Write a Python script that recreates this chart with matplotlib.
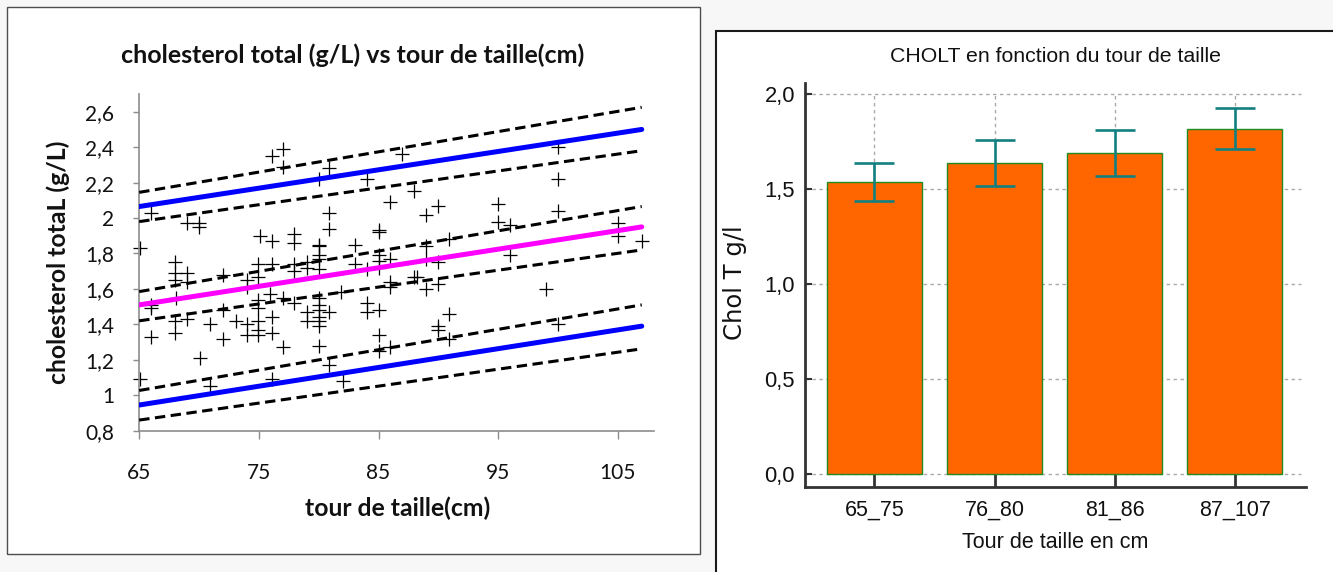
import matplotlib
matplotlib.use("Agg")
import matplotlib.pyplot as plt
from matplotlib.patches import Rectangle
from matplotlib.ticker import FixedLocator, FixedFormatter

# ---------------- data ----------------
# scatter: waist circumference (cm) vs total cholesterol (g/L)
waist = [76.1, 77.0, 77.0, 80.9, 80.0, 84.0, 66.0, 69.0, 70.0, 70.0,
         65.1, 80.9, 80.9, 75.1, 76.1, 77.9, 77.9, 80.0, 83.0, 85.0,
         85.0, 85.0, 80.0, 80.0, 68.0, 68.0, 68.0, 69.0, 69.0, 72.0,
         74.0, 74.0, 74.9, 76.1, 74.9, 77.9, 77.9, 79.0, 79.0, 80.0,
         80.0, 83.0, 84.0, 85.0, 85.0, 68.1, 66.0, 74.9, 75.9, 77.0,
         80.0, 80.0, 81.9, 84.0, 66.0, 68.0, 68.0, 69.0, 70.9, 72.0,
         72.0, 73.1, 74.0, 74.0, 74.9, 74.9, 74.9, 74.9, 76.1, 76.1,
         77.9, 79.0, 79.0, 80.0, 80.0, 80.0, 80.0, 80.9, 84.0, 85.0,
         66.0, 70.1, 77.0, 80.0, 80.9, 65.1, 70.9, 76.1, 82.0, 85.0,
         85.0, 87.0, 100.0, 100.0, 100.0, 88.0, 86.0, 89.0, 90.0, 95.0,
         95.0, 96.0, 90.9, 89.0, 89.0, 90.0, 86.0, 96.0, 105.0, 105.0,
         107.0, 86.0, 86.0, 88.0, 88.2, 89.0, 90.0, 99.0, 90.9, 90.0,
         90.0, 90.9, 86.0, 100.0]
chol = [2.35, 2.39, 2.29, 2.28, 2.22, 2.22, 2.03, 1.97, 1.97, 1.95,
        1.83, 2.03, 1.94, 1.90, 1.87, 1.91, 1.86, 1.85, 1.85, 1.93,
        1.92, 1.79, 1.84, 1.79, 1.75, 1.69, 1.65, 1.69, 1.64, 1.68,
        1.65, 1.61, 1.74, 1.74, 1.67, 1.74, 1.70, 1.75, 1.72, 1.77,
        1.71, 1.74, 1.71, 1.76, 1.72, 1.55, 1.51, 1.54, 1.57, 1.55,
        1.55, 1.51, 1.58, 1.52, 1.49, 1.42, 1.35, 1.43, 1.40, 1.48,
        1.32, 1.42, 1.40, 1.34, 1.49, 1.42, 1.37, 1.34, 1.44, 1.35,
        1.52, 1.47, 1.42, 1.48, 1.44, 1.42, 1.39, 1.47, 1.47, 1.48,
        1.33, 1.21, 1.27, 1.28, 1.17, 1.09, 1.05, 1.09, 1.08, 1.34,
        1.25, 2.36, 2.40, 2.22, 2.04, 2.15, 2.09, 2.02, 2.07, 2.08,
        1.98, 1.96, 1.88, 1.84, 1.77, 1.75, 1.77, 1.79, 1.97, 1.90,
        1.87, 1.64, 1.61, 1.67, 1.67, 1.60, 1.63, 1.60, 1.46, 1.39,
        1.37, 1.32, 1.27, 1.40]

# regression line and bands, evaluated at the ends of the waist range
fit_x = [65, 107]
fit_mean = [1.51, 1.95]
mean_ci_hi = [1.585, 2.065]
mean_ci_lo = [1.42, 1.82]
pred_hi = [2.065, 2.50]
pred_hi_ci_hi = [2.145, 2.625]
pred_hi_ci_lo = [1.98, 2.38]
pred_lo = [0.945, 1.39]
pred_lo_ci_hi = [1.027, 1.51]
pred_lo_ci_lo = [0.86, 1.262]

left_yticks = [0.8, 1.0, 1.2, 1.4, 1.6, 1.8, 2.0, 2.2, 2.4, 2.6]
left_yticklabels = ["0,8", "1", "1,2", "1,4", "1,6", "1,8", "2", "2,2", "2,4", "2,6"]
left_xticks = [65, 75, 85, 95, 105]

# bar chart: mean total cholesterol per waist class
waist_classes = ["65_75", "76_80", "81_86", "87_107"]
chol_mean = [1.54, 1.64, 1.69, 1.82]
chol_err = [0.10, 0.12, 0.12, 0.11]
right_yticks = [0.0, 0.5, 1.0, 1.5, 2.0]
right_yticklabels = ["0,0", "0,5", "1,0", "1,5", "2,0"]

# ---------------- figure ----------------
W, H = 1333, 572
fig = plt.figure(figsize=(W / 100, H / 100), dpi=100, facecolor="#f7f7f7")


def fx(px):
    return px / W


def fy(py):
    return 1 - py / H


# panel backgrounds / frames (behind the axes)
fig.patches.append(Rectangle((fx(7), fy(554)), fx(700 - 7), (554 - 7) / H,
                             transform=fig.transFigure, facecolor="white",
                             edgecolor="#4d4d4d", linewidth=1.0, zorder=-5))
fig.patches.append(Rectangle((fx(716), fy(600)), fx(700), (600 - 31) / H,
                             transform=fig.transFigure, facecolor="white",
                             edgecolor="#1a1a1a", linewidth=1.5, zorder=-5))

# ---------------- left: scatter with regression ----------------
lfont = "Lato"
axL = fig.add_axes([fx(139.2), fy(430.7), fx(653.7 - 139.2), (430.7 - 94) / H])
axL.set_facecolor("none")
axL.set_xlim(65, 108)
axL.set_ylim(0.8, 2.7)

axL.plot(waist, chol, linestyle="none", marker="+", markersize=9.5,
         markeredgewidth=0.9, color="black", zorder=2, clip_on=False)

dash_kw = dict(color="black", linewidth=2.2, dashes=(3.4, 1.8),
               solid_capstyle="butt", zorder=3)
for band in (mean_ci_hi, mean_ci_lo, pred_hi_ci_hi, pred_hi_ci_lo,
             pred_lo_ci_hi, pred_lo_ci_lo):
    axL.plot(fit_x, band, **dash_kw)
axL.plot(fit_x, pred_hi, color="#0000ff", linewidth=3.6,
         solid_capstyle="round", zorder=4)
axL.plot(fit_x, pred_lo, color="#0000ff", linewidth=3.6,
         solid_capstyle="round", zorder=4)
axL.plot(fit_x, fit_mean, color="#ff00ff", linewidth=3.6,
         solid_capstyle="round", zorder=4)

for side in ("top", "right"):
    axL.spines[side].set_visible(False)
for side in ("left", "bottom"):
    axL.spines[side].set_color("#8c8c8c")
    axL.spines[side].set_linewidth(1.2)

axL.yaxis.set_major_locator(FixedLocator(left_yticks))
axL.yaxis.set_major_formatter(FixedFormatter(left_yticklabels))
axL.xaxis.set_major_locator(FixedLocator(left_xticks))
axL.set_xticklabels([str(v) for v in left_xticks])
axL.tick_params(axis="y", direction="out", length=4, width=1.0,
                color="#8c8c8c", pad=14, labelsize=15, labelcolor="#111111")
axL.tick_params(axis="x", direction="out", length=6, width=1.0,
                color="#8c8c8c", pad=17, labelsize=15, labelcolor="#111111")
for lab in axL.get_xticklabels() + axL.get_yticklabels():
    lab.set_family(lfont)

fig.text(fx(353), fy(55), "cholesterol total (g/L) vs tour de taille(cm)",
         ha="center", va="center", fontsize=18, fontweight="bold",
         family=lfont, color="#111111")
fig.text(fx(58), fy(262), "cholesterol totaL (g/L)", rotation=90,
         ha="center", va="center", fontsize=17.8, fontweight="bold",
         family=lfont, color="#111111")
fig.text(fx(398), fy(508), "tour de taille(cm)", ha="center", va="center",
         fontsize=17.8, fontweight="bold", family=lfont, color="#111111")

# ---------------- right: bar chart with error bars ----------------
rfont = ["Liberation Sans", "DejaVu Sans"]
axR = fig.add_axes([fx(804.8), fy(486.7), fx(1305.6 - 804.8), (486.7 - 82.9) / H])
axR.set_facecolor("none")
axR.set_xlim(-0.58, 3.59)
axR.set_ylim(-0.065, 2.06)

pos = list(range(len(waist_classes)))
grid_kw = dict(color="#aaaaaa", linewidth=1.0, linestyle=(0, (2.5, 2.5)), zorder=0)
for yv in right_yticks:
    axR.axhline(yv, xmin=0.0, xmax=0.99, **grid_kw)
axR.vlines(pos, 0, right_yticks[-1], **grid_kw)

axR.bar(pos, chol_mean, width=0.79, color="#ff6600", edgecolor="#1e8c1e",
        linewidth=1.0, zorder=2)
axR.errorbar(pos, chol_mean, yerr=chol_err, fmt="none", ecolor="#128080",
             elinewidth=1.9, capsize=14.5, capthick=1.9, zorder=3)

for side in ("top", "right"):
    axR.spines[side].set_visible(False)
for side in ("left", "bottom"):
    axR.spines[side].set_color("#333333")
    axR.spines[side].set_linewidth(2.0)

axR.set_xticks(pos)
axR.set_xticklabels(waist_classes)
axR.set_yticks(right_yticks)
axR.set_yticklabels(right_yticklabels)
axR.tick_params(axis="x", direction="in", length=11, width=2.0,
                color="#333333", pad=9, labelsize=15.5, labelcolor="#111111")
axR.tick_params(axis="y", direction="in", length=5, width=1.5,
                color="#333333", pad=7, labelsize=15.8, labelcolor="#111111")
for lab in axR.get_xticklabels() + axR.get_yticklabels():
    lab.set_family(rfont)

fig.text(fx(1055), fy(57), "CHOLT en fonction du tour de taille",
         ha="center", va="center", fontsize=15.3, family=rfont, color="#111111")
fig.text(fx(735), fy(283), "Chol T g/l", rotation=90, ha="center",
         va="center", fontsize=17.5, family=["DejaVu Sans"], color="#111111")
fig.text(fx(1055), fy(543), "Tour de taille en cm", ha="center",
         va="center", fontsize=15.5, family=rfont, color="#111111")

fig.savefig("out.png", dpi=100, facecolor=fig.get_facecolor())
